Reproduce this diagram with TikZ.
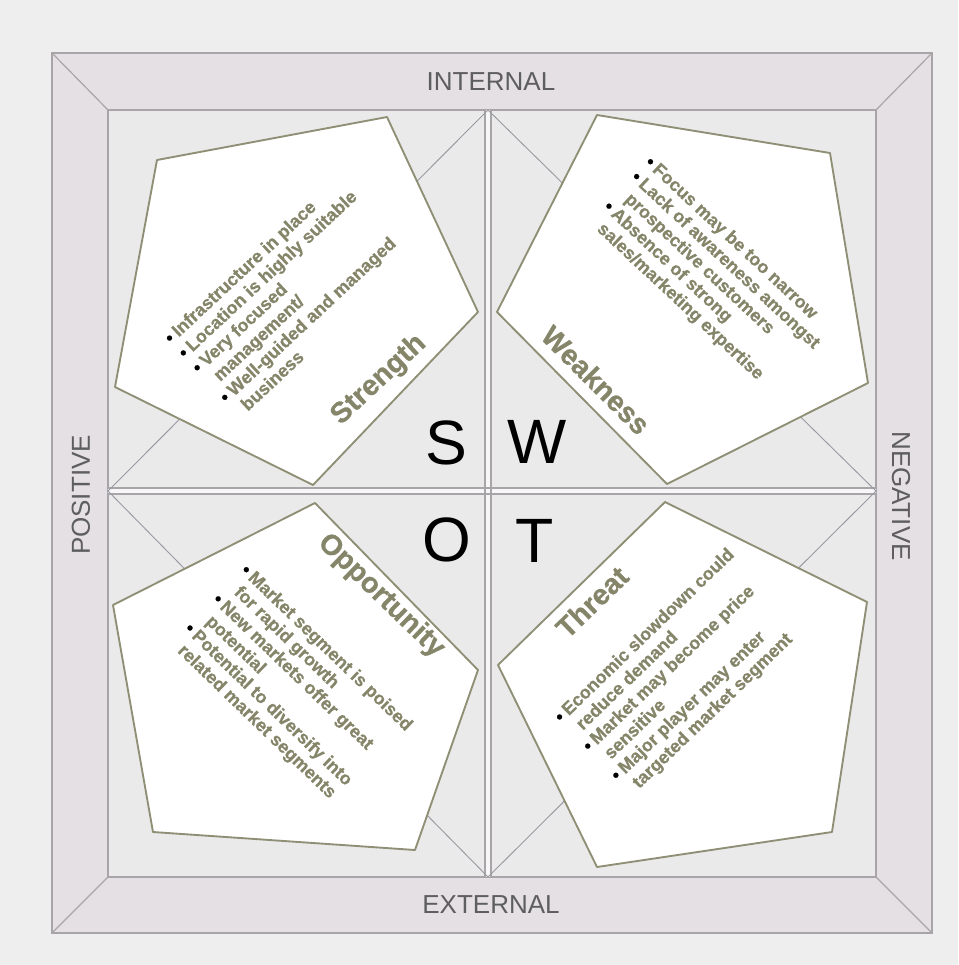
\documentclass[tikz,border=0pt]{standalone}
\usepackage{fontspec}
\setmainfont{Liberation Sans}
\newfontfamily\heavyfont[FakeBold=0.6]{Liberation Sans Bold}
\definecolor{bgc}{HTML}{EEEEEE}
\definecolor{bandc}{HTML}{E4E0E4}
\definecolor{innerc}{HTML}{EAEAEA}
\definecolor{bandline}{HTML}{A8A4A8}
\definecolor{olive}{HTML}{85856A}
\definecolor{pentline}{HTML}{8F8F76}
\definecolor{diagc}{HTML}{9A9AA4}
\definecolor{labelc}{HTML}{5E5E5E}
\begin{document}
\begin{tikzpicture}[x=0.75pt,y=-0.75pt,
  pent/.style={fill=white,draw=pentline,line width=1.4pt,line join=round},
  body/.style={text=olive,font=\fontsize{13.5}{15.2}\selectfont\heavyfont,align=left,inner sep=0pt},
  ttl/.style={text=olive,font=\fontsize{21.5}{22}\selectfont\heavyfont,inner sep=0pt},
  letter/.style={text=black,font=\fontsize{47}{47}\selectfont,inner sep=0pt},
  side/.style={text=labelc,font=\fontsize{19.5}{20}\selectfont,inner sep=0pt},
  divline/.style={draw=bandline,line width=0.8pt},
  diag/.style={draw=diagc,line width=0.7pt}]
\newcommand{\bul}{{\color{black}\textbullet}\hspace{3pt}}
\newcommand{\ind}{\hphantom{\textbullet\hspace{3pt}}}
\useasboundingbox (0,0) rectangle (958,965);
\fill[bgc] (0,0) rectangle (958,965);
% frame
\fill[bandc] (52,53) rectangle (932,933);
\fill[innerc] (108,110) rectangle (876,877);
\draw[bandline,line width=1.2pt] (52,53) rectangle (932,933);
\draw[bandline,line width=0.9pt] (108,110) rectangle (876,877);
\draw[bandline,line width=0.9pt] (52,53) -- (108,110);
\draw[bandline,line width=0.9pt] (932,53) -- (876,110);
\draw[bandline,line width=0.9pt] (52,933) -- (108,877);
\draw[bandline,line width=0.9pt] (932,933) -- (876,877);
% dividers
\fill[white!60!innerc] (485,110) rectangle (491,877);
\fill[white!60!innerc] (108,488) rectangle (876,494);
\draw[divline] (485,110) -- (485,877);
\draw[divline] (491,110) -- (491,877);
\draw[divline] (108,488) -- (876,488);
\draw[divline] (108,494) -- (876,494);
% diamond
\draw[diag] (488,110) -- (876,491) -- (488,877) -- (108,491) -- cycle;
% pentagons
\draw[pent] (157,160) -- (387,117) -- (478,312) -- (313,485) -- (115,387) -- cycle;
\draw[pent] (597,115) -- (830,153) -- (868,383) -- (667,484) -- (497,312) -- cycle;
\draw[pent] (315,503) -- (478,670) -- (415,850) -- (153,832) -- (113,605) -- cycle;
\draw[pent] (665,502) -- (867,602) -- (832,832) -- (597,867) -- (498,665) -- cycle;
% side labels
\node[side] (internal) at (491,82) {INTERNAL};
\node[side] (external) at (491,905) {EXTERNAL};
\node[side,rotate=90] (positive) at (81,495) {POSITIVE};
\node[side,rotate=-90] (negative) at (901,496) {NEGATIVE};
% letters
\node[letter] (S) at (446,443) {S};
\node[letter] (W) at (537,442) {W};
\node[letter] (O) at (447,540) {O};
\node[letter] (T) at (535,541) {T};
% titles
\node[ttl,rotate=43] (strtitle) at (379,380) {Strength};
\node[ttl,rotate=-45] (weaktitle) at (596,380) {Weakness};
\node[ttl,rotate=-44] (opptitle) at (381,596) {Opportunity};
\node[ttl,rotate=44] (thrtitle) at (592,602) {Threat};
% bodies
\node[body,rotate=43,anchor=north west] (strtext) at (162,335) {%
\bul Infrastructure in place\\
\bul Location is highly suitable\\
\bul Very focused\\
\ind management/\\
\bul Well-guided and managed\\
\ind business};
\node[body,rotate=-43,anchor=north west] (weaktext) at (653,154) {%
\bul Focus may be too narrow\\
\bul Lack of awareness amongst\\
\ind prospective customers\\
\bul Absence of strong\\
\ind sales/marketing expertise};
\node[body,rotate=-44,anchor=north west] (opptext) at (249,562) {%
\bul Market segment is poised\\
\ind for rapid growth\\
\bul New markets offer great\\
\ind potential\\
\bul Potential to diversify into\\
\ind related market segments};
\node[body,rotate=44,anchor=north west] (thrtext) at (552,714) {%
\bul Economic slowdown could\\
\ind reduce demand\\
\bul Market may become price\\
\ind sensitive\\
\bul Major player may enter\\
\ind targeted market segment};
\end{tikzpicture}
\end{document}
